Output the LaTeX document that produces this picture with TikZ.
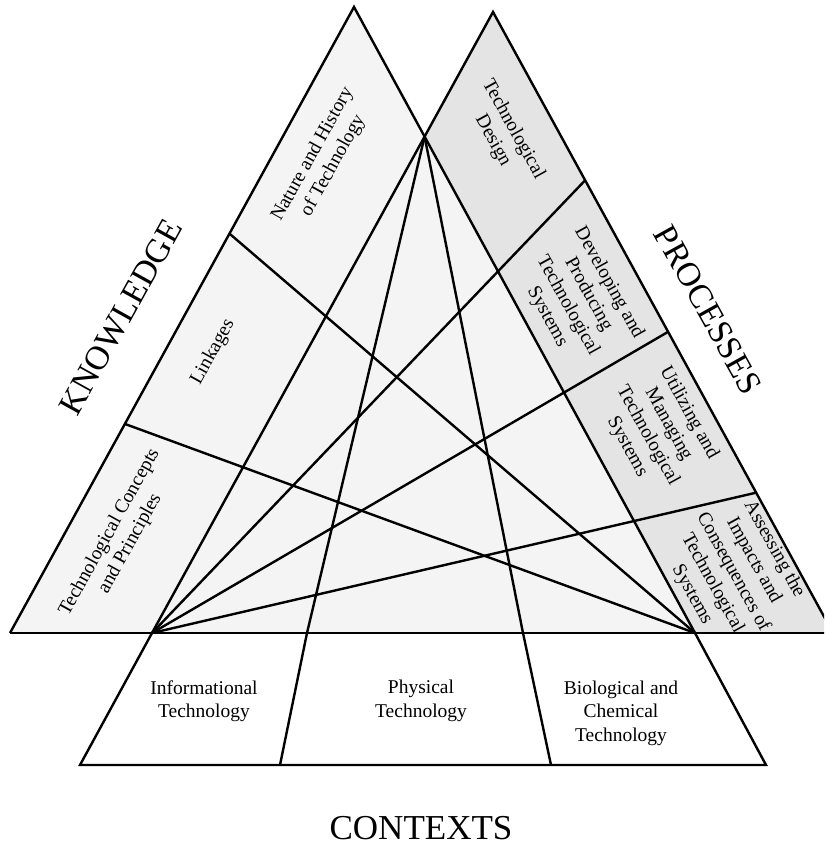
\documentclass[tikz,border=0pt]{standalone}
\usepackage{fontspec}
\setmainfont{Liberation Serif}
\usetikzlibrary{calc}
\begin{document}
\begin{tikzpicture}[x=1pt,y=-1pt,
  edge/.style={line width=2.4pt,line join=miter,line cap=butt},
  lab/.style={align=center,inner sep=0pt,font=\fontsize{19.5}{23.5}\selectfont},
  big/.style={inner sep=0pt,font=\fontsize{34}{40}\selectfont},
  lightfill/.style={fill=gray!9},
  darkfill/.style={fill=gray!21}]
\useasboundingbox (0,0) rectangle (824,856);
\clip (0,0) rectangle (824,856);
% triangle corners
\coordinate (KL) at (10,633);
\coordinate (KA) at (354,7);
\coordinate (KR) at (695,633);
\coordinate (PL) at (152,633);
\coordinate (PA) at (493,12);
\coordinate (PR) at (833,633);
\coordinate (X) at (intersection of KA--KR and PA--PL);
\coordinate (BE) at (840,633);
% division points
\coordinate (K1) at ($(KL)!0.638!(KA)$);
\coordinate (K2) at ($(KL)!0.334!(KA)$);
\coordinate (P1) at ($(PA)!0.271!(PR)$);
\coordinate (P2) at ($(PA)!0.515!(PR)$);
\coordinate (P3) at ($(PA)!0.774!(PR)$);
% base points of context lines
\coordinate (B1) at (307,633);
\coordinate (B2) at (523,633);
\coordinate (T0) at (80,765);
\coordinate (T1) at (280,765);
\coordinate (T2) at (551,765);
\coordinate (T3) at (766,765);
% fills
\path[darkfill] (PL) -- (PA) -- (PR) -- cycle;
\path[lightfill] (KL) -- (KA) -- (KR) -- cycle;
% triangles
\draw[edge] (KL) -- (KA) -- (KR);
\draw[edge] (PL) -- (PA) -- (PR);
\draw[edge] (KL) -- (BE);
% knowledge dividers
\draw[edge] (K1) -- (KR);
\draw[edge] (K2) -- (KR);
% process dividers
\draw[edge] (PL) -- (P1);
\draw[edge] (PL) -- (P2);
\draw[edge] (PL) -- (P3);
% context lines from the crossing point
\draw[edge] (X) -- (B1);
\draw[edge] (X) -- (B2);
% contexts trapezoid
\draw[edge] (PL) -- (T0) -- (T3) -- (KR);
\draw[edge] (B1) -- (T1);
\draw[edge] (B2) -- (T2);
% labels knowledge
\node[lab,rotate=61] (nat) at (323,160) {Nature and History\\of Technology};
\node[lab,rotate=61] (lin) at (213,352) {Linkages};
\node[lab,rotate=61] (tcp) at (120,538) {Technological Concepts\\and Principles};
\node[big,rotate=61] (know) at (121,317) {KNOWLEDGE};
% labels processes
\node[lab,rotate=-61] (des) at (503,135) {Technological\\Design};
\node[lab,rotate=-61] (dev) at (578,300) {Developing and\\Producing\\Technological\\Systems};
\node[lab,rotate=-61] (uti) at (658,430) {Utilizing and\\Managing\\Technological\\Systems};
\node[lab,rotate=-61] (ass) at (733,572) {Assessing the\\Impacts and\\Consequences of\\Technological\\Systems};
\node[big,rotate=-61] (proc) at (708,310) {PROCESSES};
% labels contexts
\node[lab] (inf) at (204,701) {Informational\\Technology};
\node[lab] (phy) at (421,701) {Physical\\Technology};
\node[lab] (bio) at (621,713) {Biological and\\Chemical\\Technology};
\node[big,font=\fontsize{35}{40}\selectfont] (ctx) at (421,828) {CONTEXTS};
\end{tikzpicture}
\end{document}
